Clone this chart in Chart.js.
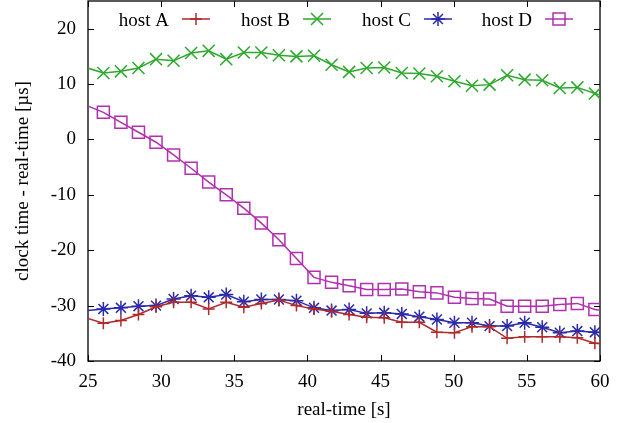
<!DOCTYPE html>
<html>
<head>
<meta charset="utf-8">
<script src="https://cdn.jsdelivr.net/npm/chart.js@4.4.1/dist/chart.umd.min.js"></script>
<style>
  html, body { margin: 0; padding: 0; background: #fff; }
</style>
</head>
<body>
<canvas id="chart" width="624" height="423"></canvas>
<script>
  // sample times (s); first and last sit just outside the plotted range
  const realTime = [24.85, 26.05, 27.25, 28.45, 29.65, 30.85, 32.05, 33.25, 34.45, 35.65,
    36.85, 38.05, 39.25, 40.45, 41.65, 42.85, 44.05, 45.25, 46.45, 47.65,
    48.85, 50.05, 51.25, 52.45, 53.65, 54.85, 56.05, 57.25, 58.45, 59.65, 60.85];

  const hostA = [-32.2, -33.2, -32.7, -31.6, -30.2, -29.4, -29.4, -30.6, -29.4, -30.3,
    -29.6, -29.0, -30.0, -30.6, -31.0, -31.6, -32.1, -32.2, -33.0, -33.0,
    -34.8, -34.9, -33.8, -33.8, -35.9, -35.6, -35.6, -35.6, -35.8, -36.8, -37.1];
  const hostB = [13.0, 12.0, 12.3, 12.9, 14.5, 14.2, 15.6, 16.0, 14.5, 15.7,
    15.7, 15.2, 15.0, 15.1, 13.5, 12.2, 12.9, 13.0, 12.0, 11.9,
    11.4, 10.5, 9.7, 9.9, 11.6, 10.8, 10.7, 9.3, 9.4, 8.3, 7.4];
  const hostC = [-30.9, -30.6, -30.4, -30.1, -30.0, -28.8, -28.2, -28.5, -28.0, -29.3,
    -28.9, -28.9, -29.1, -30.4, -30.9, -30.7, -31.4, -31.3, -31.5, -32.0,
    -32.5, -33.1, -33.1, -33.7, -33.7, -33.1, -33.9, -34.9, -34.6, -34.8, -35.0];
  const hostD = [6.2, 4.9, 3.1, 1.3, -0.5, -2.8, -5.2, -7.7, -10.0, -12.4,
    -15.1, -18.1, -21.5, -24.9, -25.8, -26.4, -27.1, -27.1, -27.0, -27.5,
    -27.7, -28.5, -28.7, -28.8, -30.1, -30.1, -30.1, -29.8, -29.6, -30.7, -31.2];

  const seriesNames = ['host A', 'host B', 'host C', 'host D'];
  const xTicks = [25, 30, 35, 40, 45, 50, 55, 60];
  const yTicks = [-40, -30, -20, -10, 0, 10, 20];

  const X_MIN = 25, X_MAX = 60, Y_MIN = -40, Y_MAX = 25;
  const FONT = { family: '"Liberation Serif", "DejaVu Serif", serif', size: 19 };
  const colors = ['#b02a2a', '#2ea82e', '#2a2aaa', '#b030b0'];
  const markers = ['cross', 'crossRot', 'star', 'rect'];
  const markerRadius = [6, 8.5, 7, 8.5];

  function drawMarker(ctx, style, r, x, y) {
    ctx.beginPath();
    if (style === 'cross' || style === 'star') {
      ctx.moveTo(x, y - r); ctx.lineTo(x, y + r);
      ctx.moveTo(x - r, y); ctx.lineTo(x + r, y);
    }
    if (style === 'crossRot' || style === 'star') {
      const d = r * Math.SQRT1_2;
      ctx.moveTo(x - d, y - d); ctx.lineTo(x + d, y + d);
      ctx.moveTo(x - d, y + d); ctx.lineTo(x + d, y - d);
    }
    if (style === 'rect') {
      const s = r * Math.SQRT1_2;
      ctx.rect(x - s, y - s, 2 * s, 2 * s);
    }
    ctx.stroke();
  }

  // gnuplot-like box with inward ticks on all four sides, plus the key
  const framePlugin = {
    id: 'frame',
    beforeDatasetsDraw(chart) {
      const { ctx, chartArea: a, scales: { x, y } } = chart;
      const TL = 6;
      ctx.save();
      ctx.strokeStyle = '#000';
      ctx.lineWidth = 1;
      ctx.beginPath();
      xTicks.forEach((v) => {
        const px = Math.round(x.getPixelForValue(v)) + 0.5;
        ctx.moveTo(px, a.bottom); ctx.lineTo(px, a.bottom - TL);
        ctx.moveTo(px, a.top); ctx.lineTo(px, a.top + TL);
      });
      yTicks.forEach((v) => {
        const py = Math.round(y.getPixelForValue(v)) + 0.5;
        ctx.moveTo(a.left, py); ctx.lineTo(a.left + TL, py);
        ctx.moveTo(a.right, py); ctx.lineTo(a.right - TL, py);
      });
      ctx.stroke();
      ctx.lineWidth = 1.3;
      ctx.strokeRect(a.left, a.top, a.right - a.left, a.bottom - a.top);
      ctx.restore();
    },
    afterDatasetsDraw(chart) {
      const { ctx } = chart;
      ctx.save();
      ctx.font = `${FONT.size}px ${FONT.family}`;
      ctx.textAlign = 'right';
      ctx.textBaseline = 'alphabetic';
      seriesNames.forEach((name, i) => {
        const textRight = 169 + 121 * i;
        const ly = 19;
        ctx.fillStyle = '#000';
        ctx.fillText(name, textRight, 26);
        ctx.strokeStyle = colors[i];
        ctx.lineWidth = 1.5;
        ctx.beginPath();
        ctx.moveTo(textRight + 13, ly); ctx.lineTo(textRight + 41, ly);
        ctx.stroke();
        drawMarker(ctx, markers[i], markerRadius[i], textRight + 27, ly);
      });
      ctx.restore();
    },
  };

  const seriesValues = [hostA, hostB, hostC, hostD];
  const datasets = seriesValues.map((values, i) => ({
    label: seriesNames[i],
    data: realTime.map((t, k) => ({ x: t, y: values[k] })),
    borderColor: colors[i],
    backgroundColor: 'rgba(0,0,0,0)',
    borderWidth: 1.5,
    tension: 0,
    pointStyle: markers[i],
    pointRadius: (c) => {
      const v = c.raw && c.raw.x;
      return v < X_MIN || v > X_MAX ? 0 : markerRadius[i];
    },
    pointBorderWidth: 1.5,
    pointBorderColor: colors[i],
    pointBackgroundColor: 'rgba(0,0,0,0)',
    clip: 0,
  }));

  new Chart(document.getElementById('chart'), {
    type: 'line',
    data: { datasets },
    options: {
      responsive: false,
      animation: false,
      devicePixelRatio: 1,
      layout: { padding: { top: 1, right: 24, left: 0, bottom: 0 } },
      plugins: { legend: { display: false }, tooltip: { enabled: false } },
      scales: {
        x: {
          type: 'linear',
          min: X_MIN,
          max: X_MAX,
          afterBuildTicks: (s) => { s.ticks = xTicks.map((v) => ({ value: v })); },
          afterFit: (s) => {
            s.height = 62;
            s.paddingLeft = 0; s.paddingRight = 0;
          },
          grid: { display: false, drawTicks: false },
          border: { display: false },
          ticks: { font: FONT, color: '#000', padding: 10, maxRotation: 0, autoSkip: false },
          title: { display: true, text: 'real-time [s]', font: FONT, color: '#000', padding: { top: 0, bottom: 2 } },
        },
        y: {
          type: 'linear',
          min: Y_MIN,
          max: Y_MAX,
          afterBuildTicks: (s) => { s.ticks = yTicks.map((v) => ({ value: v })); },
          afterFit: (s) => {
            s.width = 88;
            s.paddingTop = 0; s.paddingBottom = 0;
          },
          grid: { display: false, drawTicks: false },
          border: { display: false },
          ticks: { font: FONT, color: '#000', padding: 12, autoSkip: false },
          title: { display: true, text: 'clock time - real-time [µs]', font: FONT, color: '#000', padding: { top: 12, bottom: 0 } },
        },
      },
    },
    plugins: [framePlugin],
  });
</script>
</body>
</html>
